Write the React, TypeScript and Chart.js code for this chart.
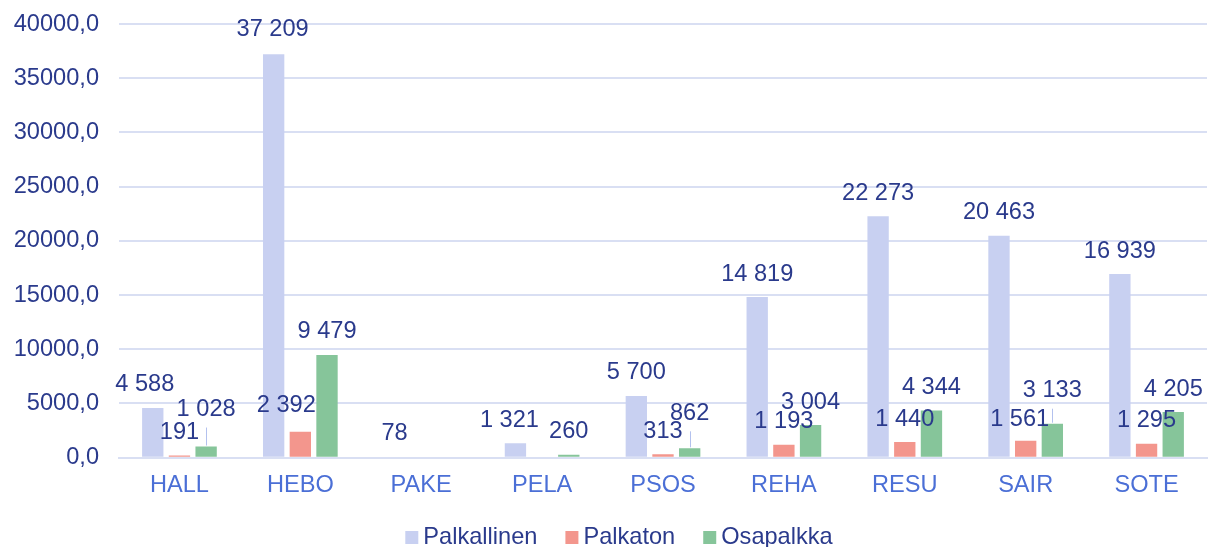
import React, { useEffect, useRef } from "react";
import { Chart, registerables } from "chart.js";

Chart.register(...registerables);

const categories = ["HALL", "HEBO", "PAKE", "PELA", "PSOS", "REHA", "RESU", "SAIR", "SOTE"];
const palkallinen = [4588, 37209, 78, 1321, 5700, 14819, 22273, 20463, 16939];
const palkaton = [191, 2392, null, null, 313, 1193, 1440, 1561, 1295];
const osapalkka = [1028, 9479, null, 260, 862, 3004, 4344, 3133, 4205];
const seriesNames = ["Palkallinen", "Palkaton", "Osapalkka"];
const seriesColors = ["#c8d0f1", "#f3968d", "#86c59a"];
const yTickValues = [0, 5000, 10000, 15000, 20000, 25000, 30000, 35000, 40000];

// label nudges: "datasetIndex:categoryIndex" -> [dx, dy, leaderLine]
const labelNudges: Record<string, [number, number, boolean]> = {
  "0:0": [-8, 0, false],
  "0:1": [-1, -2, false],
  "0:3": [-6, 0, false],
  "1:1": [-14, -3, false],
  "1:7": [-6, 2, false],
  "2:0": [0, -14, true],
  "2:4": [0, -12, true],
  "2:7": [0, -10, true],
};

const FONT = "'Liberation Sans', Arial, sans-serif";
const DARK = "#2a3a8c";
const XBLUE = "#4b6fd6";
const GRID = "#d9dff3";

const fmt = (v: number) => {
  const s = Math.round(v).toString();
  return s.replace(/\B(?=(\d{3})+(?!\d))/g, " ");
};

const labelsPlugin = {
  id: "valueLabels",
  afterDatasetsDraw(chart: any) {
    const ctx = chart.ctx;
    ctx.save();
    ctx.font = `23.6px ${FONT}`;
    ctx.fillStyle = DARK;
    ctx.textAlign = "center";
    ctx.textBaseline = "middle";
    chart.data.datasets.forEach((ds: any, di: number) => {
      const meta = chart.getDatasetMeta(di);
      meta.data.forEach((bar: any, i: number) => {
        const v = ds.data[i];
        if (v === null || v === undefined) return;
        const n = labelNudges[`${di}:${i}`] || [0, 0, false];
        const lx = bar.x + n[0];
        const ly = bar.y - 23 + n[1];
        if (n[2]) {
          ctx.save();
          ctx.strokeStyle = "#b3c1ee";
          ctx.lineWidth = 1;
          ctx.beginPath();
          ctx.moveTo(Math.round(bar.x) + 0.5, ly + 18);
          ctx.lineTo(Math.round(bar.x) + 0.5, bar.y - 1);
          ctx.stroke();
          ctx.restore();
        }
        ctx.fillText(fmt(v), lx, ly);
      });
    });
    ctx.restore();
  },
};

const legendPlugin = {
  id: "customLegend",
  afterDraw(chart: any) {
    const ctx = chart.ctx;
    ctx.save();
    ctx.font = `23.6px ${FONT}`;
    ctx.textBaseline = "middle";
    ctx.textAlign = "left";
    const box = 13;
    const gap = 5;
    const itemGap = 28;
    const widths = seriesNames.map((s) => ctx.measureText(s).width);
    const total = widths.reduce((a, w) => a + box + gap + w, 0) + itemGap * (seriesNames.length - 1);
    let x = chart.width / 2 + 15 - total / 2;
    const cy = chart.height - 10;
    seriesNames.forEach((s, i) => {
      ctx.fillStyle = seriesColors[i];
      ctx.fillRect(x, cy - 6, box, box);
      x += box + gap;
      ctx.fillStyle = DARK;
      ctx.fillText(s, x, cy);
      x += widths[i] + itemGap;
    });
    ctx.restore();
  },
};

export default function App() {
  const ref = useRef<HTMLCanvasElement>(null);
  useEffect(() => {
    document.body.style.margin = "0";
    if (!ref.current) return;
    const chart = new Chart(ref.current, {
      type: "bar",
      data: {
        labels: categories,
        datasets: [palkallinen, palkaton, osapalkka].map((d, i) => ({
          label: seriesNames[i],
          data: d,
          backgroundColor: seriesColors[i],
          borderWidth: 0,
          categoryPercentage: 0.662,
          barPercentage: 0.8,
        })),
      },
      options: {
        animation: false,
        responsive: false,
        maintainAspectRatio: false,
        layout: { padding: { top: 24, left: 14, right: 1, bottom: 33 } },
        plugins: {
          legend: { display: false },
          tooltip: { enabled: false },
        },
        scales: {
          x: {
            grid: { display: false, drawTicks: false },
            border: { display: true, color: GRID, width: 2 },
            ticks: {
              color: XBLUE,
              font: { family: FONT, size: 23.6 },
              padding: 14,
              maxRotation: 0,
            },
          },
          y: {
            min: 0,
            max: 40000,
            afterBuildTicks: (axis: any) => {
              axis.ticks = yTickValues.map((v) => ({ value: v }));
            },
            afterFit: (axis: any) => {
              axis.width = 105;
              axis.paddingTop = 0;
              axis.paddingBottom = 0;
            },
            grid: { color: GRID, lineWidth: 2, drawTicks: false },
            border: { display: false },
            ticks: {
              color: DARK,
              font: { family: FONT, size: 23.6 },
              padding: 20,
              callback: (v: any) => Number(v).toFixed(1).replace(".", ","),
            },
          },
        },
      },
      plugins: [labelsPlugin, legendPlugin],
    });
    return () => chart.destroy();
  }, []);
  return (
    <div style={{ width: 1208, height: 547 }}>
      <canvas ref={ref} width={1208} height={547} style={{ display: "block" }} />
    </div>
  );
}
